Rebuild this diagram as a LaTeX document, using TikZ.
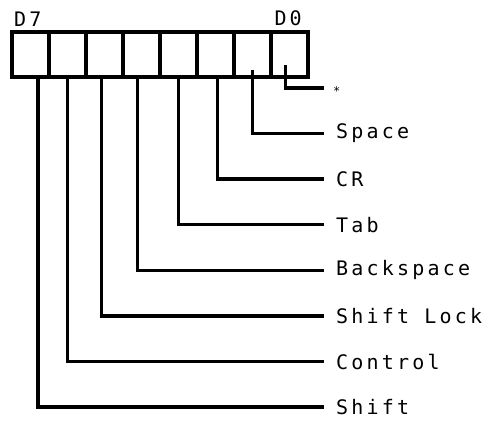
\documentclass[tikz,border=0pt]{standalone}
\usepackage{fontspec}
\setmonofont{DejaVu Sans Mono}[LetterSpace=16]
\usetikzlibrary{positioning}

\tikzset{
  cell/.style={draw, line width=3.8pt, minimum width=37pt, minimum height=45pt,
    outer sep=0pt, inner sep=0pt},
  lead/.style={line width=3.4pt},
  bitname/.style={anchor=west, inner sep=0pt, font=\ttfamily\fontsize{20}{22}\selectfont},
}

\begin{document}
\begin{tikzpicture}[x=1pt,y=1pt]
    \useasboundingbox (0,0) rectangle (491,421);
    % the register, bit 7 on the left
    \foreach \i in {0,...,7}
      \node[cell] (b\i) at ({30.5+37*(7-\i)},366.5) {};
    \node[bitname, anchor=south west] (d7) at ([xshift=2pt,yshift=5pt]b7.north west) {D7};
    \node[bitname, anchor=south east] (d0) at ([xshift=-6pt,yshift=6pt]b0.north east) {D0};

    % line ends, one per bit
    \foreach \name [count=\k from 0] in {star,space,cr,tab,bksp,slock,ctrl,shift}
      \coordinate (\name) at (324,{333-45.6*\k});
    \node[bitname, font=\ttfamily\fontsize{12}{12}\selectfont] (starlbl) at ([xshift=9pt,yshift=-3pt]star) {*};
    \node[bitname] (spacelbl) at ([xshift=12pt]space) {Space};
    \node[bitname] (crlbl) at ([xshift=12pt]cr) {CR};
    \node[bitname] (tablbl) at ([xshift=12pt]tab) {Tab};
    \node[bitname] (bksplbl) at ([xshift=12pt]bksp) {Backspace};
    \node[bitname] (slocklbl) at ([xshift=12pt]slock) {Shift Lock};
    \node[bitname] (ctrllbl) at ([xshift=12pt]ctrl) {Control};
    \node[bitname] (shiftlbl) at ([xshift=12pt]shift) {Shift};

    % leads
    \draw[lead] ([xshift=-4pt,yshift=12pt]b0.south) |- (star);
    \draw[lead] ([yshift=7pt]b1.south) |- (space);
    \draw[lead] ([xshift=2pt]b2.south) |- (cr);
    \draw[lead] (b3.south) |- (tab);
    \draw[lead] ([xshift=-4pt]b4.south) |- (bksp);
    \draw[lead] ([xshift=-3pt]b5.south) |- (slock);
    \draw[lead] (b6.south) |- (ctrl);
    \draw[lead] ([xshift=7.5pt]b7.south) |- (shift);
\end{tikzpicture}
\end{document}
